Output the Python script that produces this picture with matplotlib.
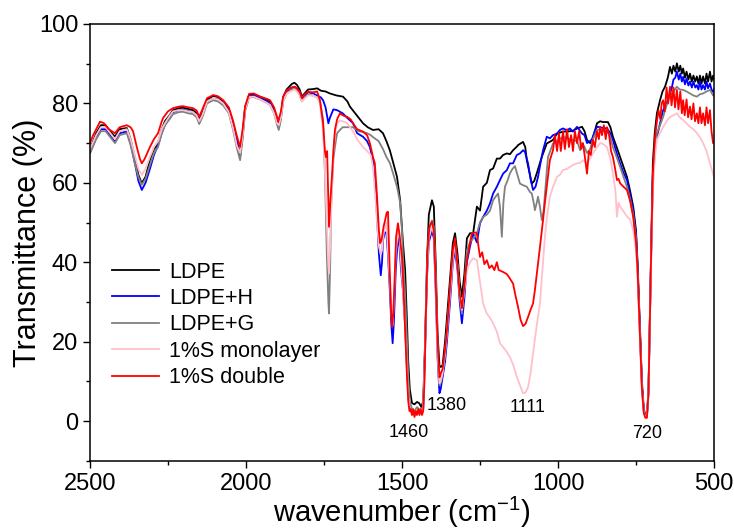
import matplotlib
matplotlib.use("Agg")
import matplotlib.pyplot as plt
from matplotlib.ticker import MultipleLocator

plt.rcParams['font.family'] = ['Liberation Sans', 'DejaVu Sans']
plt.rcParams['mathtext.fontset'] = 'custom'
plt.rcParams['mathtext.rm'] = 'Liberation Sans'
plt.rcParams['mathtext.it'] = 'Liberation Sans'

# ---------------- data (wavenumber cm-1, transmittance %) ----------------
ldpe_wn = [2500, 2480, 2465, 2450, 2435, 2420, 2405, 2382, 2370, 2355, 2345, 2334, 2322, 2308, 2295,
           2282, 2270, 2260, 2245, 2234, 2215, 2202, 2185, 2170, 2158, 2150, 2140, 2125, 2105, 2090,
           2073, 2055, 2042, 2030, 2019, 2010, 2003, 1990, 1975, 1955, 1935, 1923, 1910, 1900, 1895,
           1888, 1881, 1870, 1853, 1845, 1837, 1828, 1821, 1812, 1801, 1785, 1772, 1760, 1745, 1731,
           1710, 1689, 1675, 1667, 1650, 1640, 1625, 1610, 1593, 1575, 1561, 1550, 1539, 1528, 1516,
           1506, 1497, 1490, 1484, 1480, 1475, 1468, 1460, 1452, 1445, 1438, 1432, 1426, 1420, 1414,
           1404, 1398, 1392, 1386, 1380, 1376, 1370, 1362, 1356, 1346, 1337, 1330, 1322, 1315, 1308,
           1300, 1292, 1282, 1272, 1260, 1250, 1240, 1228, 1218, 1208, 1196, 1186, 1176, 1164, 1154,
           1144, 1132, 1128, 1112, 1105, 1100, 1090, 1084, 1076, 1068, 1058, 1052, 1036, 1016, 1003,
           984, 971, 952, 939, 923, 915, 907, 897, 891, 882, 875, 865, 856, 840, 832,
           824, 812, 801, 790, 779, 769, 759, 750, 745, 738, 731, 725, 720, 715, 710,
           706, 701, 696, 690, 683, 673, 665, 657, 648, 641, 635, 630, 624, 619, 613,
           608, 603, 599, 593, 588, 582, 577, 571, 566, 560, 555, 550, 545, 540, 535,
           529, 524, 519, 513, 508, 503, 500]
ldpe_t = [68.5, 72.5, 74.5, 74.5, 73.0, 71.6, 73.5, 73.8, 71.0, 66.0, 62.0, 59.9, 61.5, 65.7, 68.5,
          70.0, 73.5, 75.5, 77.0, 78.3, 78.8, 78.9, 78.6, 78.3, 77.5, 76.0, 77.5, 81.0, 81.9, 81.6,
          80.5, 78.5, 75.0, 71.0, 67.0, 73.0, 79.0, 82.2, 82.3, 81.7, 81.0, 80.5, 78.5, 76.0, 74.5,
          77.0, 81.5, 83.5, 84.9, 85.2, 84.7, 83.5, 81.7, 82.5, 83.5, 83.6, 83.8, 83.2, 83.0, 82.5,
          82.0, 81.7, 80.5, 79.2, 77.5, 76.5, 75.0, 74.0, 73.3, 73.5, 72.5, 70.5, 68.2, 65.0, 61.5,
          55.6, 45.0, 38.0, 25.0, 15.0, 8.0, 4.5, 4.2, 4.8, 4.5, 3.5, 5.0, 20.0, 40.0, 52.0,
          55.6, 54.0, 40.0, 22.0, 14.0, 13.6, 14.0, 20.0, 26.0, 36.0, 44.8, 47.3, 42.0, 35.0, 31.3,
          37.0, 46.0, 47.3, 47.3, 54.0, 53.0, 59.0, 60.0, 63.2, 63.6, 66.1, 66.1, 67.0, 67.4, 67.2,
          68.2, 69.1, 69.5, 70.3, 69.0, 65.7, 62.0, 59.8, 60.5, 62.4, 65.0, 66.5, 69.9, 70.8, 72.4,
          72.9, 72.9, 73.1, 73.7, 74.1, 73.0, 70.8, 70.0, 70.5, 73.0, 75.0, 75.5, 75.3, 75.3, 74.0,
          71.6, 69.0, 66.5, 64.0, 61.5, 58.0, 54.0, 48.0, 40.0, 25.0, 10.0, 3.0, 1.5, 1.5, 8.0,
          25.0, 45.0, 65.0, 72.5, 77.5, 80.8, 83.0, 84.2, 86.5, 89.2, 87.5, 89.5, 88.0, 90.1, 88.0,
          89.5, 87.5, 88.8, 86.5, 88.0, 86.0, 87.5, 85.5, 87.0, 85.5, 86.8, 85.0, 87.0, 85.0, 86.8,
          85.0, 87.5, 85.5, 88.0, 85.5, 87.0, 86.0]

ldpeh_wn = [2500, 2480, 2465, 2450, 2435, 2420, 2405, 2382, 2370, 2355, 2345, 2334, 2322, 2308, 2295,
            2282, 2270, 2260, 2245, 2234, 2215, 2202, 2185, 2170, 2158, 2150, 2140, 2125, 2105, 2090,
            2073, 2055, 2042, 2030, 2019, 2010, 2003, 1990, 1975, 1955, 1935, 1923, 1910, 1900, 1895,
            1888, 1881, 1870, 1853, 1845, 1837, 1828, 1821, 1812, 1801, 1785, 1772, 1760, 1753, 1745,
            1736, 1731, 1720, 1708, 1690, 1676, 1657, 1644, 1625, 1612, 1603, 1593, 1585, 1580, 1574,
            1568, 1564, 1561, 1555, 1550, 1545, 1539, 1534, 1530, 1526, 1520, 1513, 1508, 1503, 1497,
            1490, 1485, 1480, 1475, 1468, 1460, 1452, 1445, 1438, 1432, 1426, 1420, 1414, 1404, 1398,
            1392, 1386, 1380, 1376, 1370, 1362, 1356, 1346, 1337, 1330, 1322, 1315, 1308, 1300, 1292,
            1282, 1272, 1260, 1250, 1240, 1228, 1218, 1208, 1196, 1186, 1176, 1164, 1154, 1144, 1132,
            1122, 1112, 1106, 1096, 1088, 1080, 1072, 1064, 1056, 1048, 1036, 1026, 1016, 1003, 994,
            984, 971, 962, 952, 939, 923, 915, 907, 897, 891, 882, 875, 865, 856, 843,
            832, 824, 812, 801, 790, 779, 769, 759, 750, 745, 738, 731, 725, 720, 715,
            710, 706, 701, 696, 690, 683, 673, 663, 652, 641, 635, 630, 624, 619, 613,
            608, 603, 599, 593, 588, 582, 577, 571, 566, 560, 555, 550, 545, 540, 535,
            529, 524, 519, 513, 508, 503, 500]
ldpeh_t = [67.5, 71.5, 73.5, 73.5, 72.0, 70.3, 72.5, 72.9, 70.0, 64.5, 60.5, 58.2, 60.0, 63.5, 67.0,
           69.5, 72.5, 74.5, 76.5, 77.8, 78.3, 78.4, 78.1, 77.8, 77.0, 75.5, 77.0, 80.5, 81.2, 81.0,
           80.0, 78.0, 74.5, 70.5, 66.5, 72.5, 78.5, 81.8, 81.9, 81.3, 80.6, 80.0, 78.0, 75.5, 74.0,
           76.5, 81.0, 83.0, 84.0, 84.2, 83.8, 82.8, 81.3, 82.0, 82.8, 82.5, 82.0, 81.5, 80.8, 79.0,
           75.0, 76.4, 78.5, 78.3, 77.5, 76.4, 75.0, 72.5, 71.6, 70.5, 69.0, 65.7, 58.0, 51.4, 42.0,
           36.7, 40.0, 45.5, 47.5, 47.5, 42.0, 32.9, 24.0, 19.6, 25.0, 38.0, 46.4, 44.0, 38.0, 32.9,
           24.0, 15.0, 7.0, 3.0, 2.0, 1.5, 2.5, 2.0, 2.5, 3.0, 18.0, 36.0, 45.0, 48.0, 46.0,
           33.0, 16.0, 7.0, 8.0, 11.0, 15.0, 20.0, 30.0, 40.0, 43.0, 38.0, 30.0, 24.6, 31.0, 40.0,
           44.0, 47.3, 45.0, 49.8, 51.4, 53.0, 54.8, 57.3, 59.0, 60.7, 62.3, 63.2, 64.9, 64.9, 67.0,
           67.4, 68.2, 67.8, 64.9, 61.0, 58.2, 59.0, 61.5, 65.0, 68.2, 71.6, 71.2, 72.0, 72.4, 73.3,
           73.7, 73.2, 73.7, 72.9, 74.1, 72.4, 72.0, 70.0, 70.5, 71.0, 73.0, 74.1, 74.0, 73.8, 73.7,
           72.5, 70.8, 67.5, 64.9, 62.5, 60.7, 57.0, 53.2, 47.0, 39.0, 24.0, 9.0, 2.5, 1.2, 1.2,
           7.0, 24.0, 44.0, 62.0, 68.0, 71.6, 75.0, 78.3, 80.0, 82.5, 84.0, 86.0, 86.5, 88.0, 86.0,
           87.5, 85.5, 86.7, 84.8, 86.3, 84.5, 85.5, 84.0, 85.5, 84.0, 84.6, 83.5, 85.5, 83.5, 84.6,
           83.5, 85.5, 83.8, 85.0, 83.5, 82.9, 83.5]

ldpeg_wn = [2500, 2480, 2465, 2450, 2435, 2420, 2405, 2382, 2370, 2355, 2345, 2334, 2322, 2308, 2295,
            2282, 2270, 2260, 2245, 2234, 2215, 2202, 2185, 2170, 2158, 2150, 2140, 2125, 2105, 2090,
            2073, 2055, 2042, 2030, 2019, 2010, 2003, 1990, 1975, 1955, 1935, 1923, 1910, 1900, 1895,
            1888, 1881, 1870, 1853, 1845, 1837, 1828, 1821, 1812, 1801, 1785, 1772, 1763, 1753, 1747,
            1741, 1736, 1734, 1730, 1727, 1720, 1715, 1708, 1699, 1690, 1676, 1657, 1640, 1625, 1612,
            1600, 1593, 1575, 1561, 1550, 1539, 1529, 1516, 1506, 1500, 1497, 1490, 1484, 1480, 1475,
            1468, 1460, 1452, 1445, 1438, 1432, 1426, 1420, 1414, 1404, 1398, 1392, 1386, 1380, 1376,
            1370, 1362, 1356, 1346, 1337, 1330, 1322, 1315, 1308, 1300, 1292, 1282, 1272, 1260, 1250,
            1240, 1228, 1218, 1208, 1200, 1192, 1186, 1180, 1175, 1170, 1162, 1154, 1146, 1138, 1130,
            1122, 1112, 1100, 1090, 1084, 1078, 1074, 1068, 1064, 1058, 1052, 1046, 1042, 1036, 1032,
            1016, 1003, 984, 971, 952, 939, 929, 923, 915, 907, 897, 888, 875, 865, 856,
            843, 832, 824, 812, 801, 790, 779, 769, 759, 750, 745, 738, 731, 725, 720,
            715, 710, 706, 701, 696, 690, 683, 673, 663, 652, 641, 630, 619, 610, 599,
            588, 577, 566, 555, 545, 535, 524, 513, 503, 500]
ldpeg_t = [67.5, 71.0, 73.0, 73.0, 71.5, 70.0, 72.0, 72.5, 69.5, 64.5, 61.5, 59.5, 61.0, 64.5, 67.5,
           69.0, 72.5, 74.5, 76.0, 77.3, 77.8, 77.9, 77.5, 77.3, 76.5, 74.8, 76.5, 80.0, 80.8, 80.5,
           79.5, 77.5, 73.5, 69.0, 65.7, 71.5, 78.0, 81.5, 81.6, 81.0, 80.2, 79.6, 77.5, 74.5, 73.3,
           76.0, 80.5, 82.5, 83.5, 83.8, 83.3, 82.2, 80.5, 81.5, 82.2, 82.0, 81.5, 80.5, 76.0, 62.3,
           42.2, 30.0, 27.1, 40.0, 54.0, 66.0, 69.0, 72.5, 73.3, 74.0, 74.0, 74.0, 73.0, 72.8, 72.5,
           72.0, 71.5, 70.5, 68.5, 66.5, 65.0, 62.5, 59.0, 55.0, 48.0, 41.3, 32.0, 20.0, 11.0, 5.0,
           3.0, 2.5, 3.5, 3.0, 2.5, 4.0, 19.0, 38.0, 48.0, 50.5, 49.0, 37.0, 18.0, 9.0, 9.5,
           12.0, 17.0, 23.0, 33.0, 42.0, 45.0, 39.0, 31.0, 27.0, 34.0, 43.0, 45.0, 46.0, 47.3, 50.0,
           51.4, 52.0, 53.0, 55.6, 56.5, 57.3, 54.0, 46.4, 55.0, 59.0, 60.5, 62.4, 63.5, 64.2, 62.0,
           59.8, 59.4, 59.0, 57.7, 57.3, 55.0, 53.1, 55.0, 56.5, 54.0, 50.6, 53.0, 57.0, 63.0, 66.5,
           69.9, 70.5, 71.6, 71.2, 70.8, 70.5, 68.2, 70.0, 69.0, 67.5, 68.5, 71.0, 73.3, 73.5, 73.3,
           73.0, 71.5, 69.0, 66.5, 64.0, 61.5, 59.0, 56.0, 52.0, 46.0, 38.0, 23.0, 8.5, 2.5, 1.2,
           1.2, 7.0, 24.0, 43.0, 60.0, 67.0, 72.5, 74.5, 76.6, 79.5, 82.0, 83.0, 84.2, 83.5, 83.4,
           83.0, 82.5, 82.0, 81.7, 82.3, 82.5, 83.0, 83.4, 82.0, 82.5]

mono_wn = [2500, 2480, 2465, 2450, 2435, 2420, 2405, 2382, 2370, 2355, 2345, 2334, 2322, 2308, 2295,
           2282, 2270, 2260, 2245, 2234, 2215, 2202, 2185, 2170, 2158, 2150, 2140, 2125, 2105, 2090,
           2073, 2055, 2042, 2030, 2019, 2010, 2003, 1990, 1975, 1955, 1935, 1923, 1910, 1900, 1895,
           1888, 1881, 1870, 1853, 1845, 1837, 1828, 1821, 1812, 1801, 1785, 1772, 1763, 1753, 1747,
           1741, 1736, 1734, 1730, 1725, 1720, 1715, 1708, 1699, 1690, 1676, 1657, 1644, 1625, 1612,
           1600, 1593, 1585, 1580, 1574, 1568, 1564, 1561, 1555, 1550, 1545, 1539, 1534, 1530, 1526,
           1520, 1513, 1508, 1503, 1497, 1490, 1485, 1480, 1475, 1468, 1460, 1452, 1445, 1438, 1432,
           1426, 1420, 1414, 1404, 1398, 1392, 1386, 1380, 1376, 1370, 1362, 1356, 1346, 1337, 1330,
           1322, 1315, 1308, 1300, 1292, 1282, 1272, 1260, 1250, 1240, 1228, 1218, 1208, 1196, 1186,
           1175, 1165, 1154, 1143, 1132, 1122, 1112, 1104, 1096, 1088, 1080, 1070, 1058, 1050, 1042,
           1036, 1026, 1016, 1003, 994, 984, 971, 962, 952, 939, 929, 920, 907, 897, 888,
           875, 865, 856, 843, 832, 824, 816, 811, 806, 801, 790, 779, 769, 759, 750,
           745, 738, 731, 725, 720, 715, 710, 706, 701, 696, 690, 683, 673, 663, 652,
           641, 630, 619, 610, 599, 588, 577, 566, 555, 545, 535, 524, 513, 503, 500]
mono_t = [68.5, 72.0, 74.0, 74.0, 72.5, 71.0, 73.0, 73.5, 71.0, 66.5, 63.5, 62.0, 63.5, 66.5, 69.0,
          70.5, 73.5, 75.0, 76.8, 78.0, 78.3, 78.3, 78.0, 77.8, 77.0, 75.5, 77.0, 80.5, 81.2, 81.0,
          80.0, 77.8, 74.0, 69.5, 67.5, 72.5, 78.5, 81.6, 81.7, 81.0, 80.2, 79.6, 77.5, 75.0, 74.5,
          76.5, 80.5, 82.5, 83.2, 83.5, 83.0, 82.0, 80.5, 81.2, 82.0, 82.0, 81.5, 80.0, 73.0, 63.0,
          50.0, 39.0, 37.2, 45.0, 58.0, 68.0, 72.0, 75.0, 75.7, 75.5, 75.0, 73.0, 71.0, 69.0, 68.0,
          67.0, 64.0, 56.0, 50.0, 44.0, 42.0, 43.0, 46.0, 49.0, 50.0, 43.0, 35.0, 27.0, 24.0, 30.0,
          42.0, 48.0, 46.0, 40.0, 33.0, 23.0, 14.0, 6.0, 3.0, 2.0, 1.5, 2.5, 2.0, 2.5, 3.0,
          18.0, 37.0, 46.0, 49.0, 47.0, 34.0, 17.0, 9.5, 10.0, 12.0, 17.0, 22.0, 32.0, 41.0, 44.5,
          39.0, 32.0, 28.0, 33.0, 38.0, 40.0, 41.0, 40.5, 35.0, 29.6, 27.0, 26.0, 24.6, 22.5, 19.6,
          18.5, 17.5, 16.1, 14.0, 11.1, 9.0, 7.0, 7.2, 8.5, 12.0, 17.0, 23.0, 29.6, 38.0, 46.4,
          51.0, 56.5, 59.0, 61.5, 62.0, 63.2, 63.5, 64.0, 64.5, 64.9, 65.0, 65.7, 65.0, 66.2, 67.4,
          69.0, 70.0, 69.8, 69.0, 66.0, 62.3, 58.0, 51.4, 55.0, 54.0, 52.8, 51.5, 50.8, 48.0, 43.0,
          36.0, 22.0, 8.0, 2.0, 1.0, 1.0, 7.0, 23.0, 42.0, 58.0, 66.0, 70.8, 72.5, 74.1, 75.5,
          76.6, 77.0, 77.5, 76.5, 75.8, 75.0, 74.1, 73.5, 72.5, 71.5, 70.0, 68.0, 64.9, 62.3, 61.5]

double_wn = [2500, 2490, 2480, 2468, 2455, 2440, 2420, 2405, 2382, 2370, 2362, 2350, 2340, 2334, 2325,
             2308, 2295, 2282, 2270, 2266, 2250, 2234, 2215, 2202, 2185, 2170, 2158, 2150, 2140, 2125,
             2105, 2090, 2073, 2055, 2042, 2030, 2019, 2010, 2003, 1990, 1975, 1955, 1935, 1923, 1910,
             1900, 1897, 1888, 1881, 1870, 1853, 1845, 1837, 1828, 1821, 1812, 1801, 1785, 1772, 1763,
             1753, 1747, 1744, 1740, 1736, 1734, 1730, 1724, 1720, 1715, 1708, 1699, 1690, 1676, 1665,
             1657, 1644, 1625, 1612, 1603, 1593, 1587, 1580, 1574, 1570, 1566, 1564, 1559, 1554, 1549,
             1545, 1542, 1539, 1535, 1532, 1528, 1524, 1519, 1513, 1508, 1500, 1495, 1490, 1485, 1480,
             1476, 1472, 1468, 1464, 1460, 1456, 1452, 1448, 1444, 1440, 1436, 1432, 1428, 1424, 1418,
             1412, 1404, 1398, 1392, 1386, 1380, 1376, 1370, 1362, 1356, 1346, 1337, 1330, 1322, 1315,
             1308, 1300, 1292, 1282, 1276, 1265, 1260, 1255, 1250, 1243, 1236, 1228, 1220, 1212, 1204,
             1196, 1190, 1186, 1175, 1164, 1155, 1144, 1136, 1128, 1120, 1112, 1104, 1096, 1088, 1080,
             1074, 1068, 1058, 1048, 1042, 1036, 1026, 1016, 1010, 1003, 997, 991, 984, 978, 971,
             965, 958, 952, 946, 939, 932, 926, 920, 913, 907, 901, 895, 888, 882, 875,
             869, 865, 859, 853, 847, 843, 836, 830, 824, 818, 811, 806, 801, 790, 779,
             769, 759, 750, 745, 738, 731, 725, 720, 715, 710, 706, 701, 696, 690, 683,
             678, 672, 668, 663, 658, 652, 647, 641, 636, 630, 625, 619, 614, 608, 603,
             599, 594, 588, 583, 577, 572, 566, 561, 555, 550, 545, 540, 535, 529, 524,
             519, 513, 508, 503, 500]
double_t = [70.0, 72.0, 73.5, 75.4, 75.0, 73.5, 72.5, 74.0, 74.5, 74.0, 73.0, 69.0, 66.0, 64.9, 66.0,
            69.0, 71.0, 72.5, 75.5, 76.3, 78.0, 78.8, 79.2, 79.3, 79.0, 78.8, 78.2, 76.6, 78.5, 81.3,
            82.1, 81.8, 80.8, 79.0, 75.8, 72.0, 69.0, 74.0, 79.2, 82.4, 82.5, 81.7, 81.2, 80.8, 79.0,
            76.5, 75.4, 78.0, 81.7, 83.3, 84.0, 84.2, 83.8, 83.0, 81.3, 82.3, 82.9, 82.8, 83.0, 80.8,
            75.0, 68.0, 66.5, 68.0, 55.0, 48.9, 55.0, 62.3, 68.0, 73.3, 76.0, 77.5, 77.0, 76.6, 76.0,
            75.0, 73.5, 72.9, 72.0, 70.0, 66.5, 64.9, 56.5, 48.0, 44.8, 45.5, 46.3, 49.0, 50.6, 52.5,
            52.7, 45.0, 37.2, 28.0, 23.7, 27.0, 35.0, 46.4, 49.8, 47.0, 41.3, 33.0, 22.9, 13.0, 5.0,
            2.5, 3.0, 1.5, 3.0, 1.0, 2.5, 1.5, 3.0, 1.5, 3.0, 1.5, 2.5, 10.0, 25.0, 43.0,
            49.0, 50.2, 48.0, 35.0, 20.0, 11.0, 12.0, 13.0, 18.0, 22.8, 33.8, 43.0, 46.0, 39.0, 32.0,
            28.4, 34.0, 40.5, 45.0, 47.3, 47.5, 47.3, 44.0, 41.3, 42.5, 39.5, 40.5, 38.5, 39.2, 38.0,
            40.0, 38.0, 37.9, 37.5, 37.0, 36.0, 34.6, 31.5, 28.7, 25.5, 23.9, 24.5, 26.2, 28.0, 29.6,
            33.0, 37.0, 43.7, 50.6, 55.0, 59.0, 65.7, 68.2, 72.0, 68.0, 72.5, 68.0, 73.0, 68.5, 73.5,
            69.0, 72.0, 68.0, 73.0, 70.0, 73.0, 68.5, 70.0, 66.0, 62.3, 68.0, 67.0, 70.8, 69.0, 73.0,
            71.0, 74.1, 72.0, 74.5, 71.0, 74.0, 72.0, 68.0, 66.5, 64.0, 60.7, 61.0, 59.9, 59.0, 58.2,
            55.5, 51.4, 45.0, 38.0, 23.0, 8.0, 2.0, 0.8, 0.8, 7.0, 24.0, 44.0, 62.0, 70.8, 75.5,
            78.3, 76.0, 80.0, 80.8, 78.0, 84.0, 80.0, 84.2, 79.5, 84.0, 79.0, 83.4, 78.5, 83.0, 77.5,
            80.8, 77.0, 81.0, 76.5, 79.2, 76.0, 80.0, 75.5, 77.5, 75.0, 79.0, 75.0, 77.5, 74.5, 79.0,
            75.0, 78.3, 73.0, 70.0, 70.0]

series_labels = ['LDPE', 'LDPE+H', 'LDPE+G', '1%S monolayer', '1%S double']
series_colors = ['#000000', '#0000ff', '#808080', '#ffc0cb', '#ff0000']

peak_labels = ['1460', '1380', '1111', '720']
peak_pos_wn = [1478, 1356, 1099, 715]
peak_pos_t = [-2.9, 3.9, 3.4, -3.1]

x_ticks = [2500, 2000, 1500, 1000, 500]
y_ticks = [0, 20, 40, 60, 80, 100]

# ---------------- figure ----------------
fig = plt.figure(figsize=(7.34, 5.32), dpi=100)
ax = fig.add_axes([90 / 734, 1 - 460.7 / 532, 624 / 734, 436.7 / 532])

all_wn = [ldpe_wn, ldpeh_wn, ldpeg_wn, mono_wn, double_wn]
all_t = [ldpe_t, ldpeh_t, ldpeg_t, mono_t, double_t]
for wn, t, lab, col in zip(all_wn, all_t, series_labels, series_colors):
    ax.plot(wn, t, color=col, lw=1.3, label=lab)

for lab, xw, yt in zip(peak_labels, peak_pos_wn, peak_pos_t):
    ax.text(xw, yt, lab, ha='center', va='center', fontsize=13)

ax.set_xlim(2500, 500)
ax.set_ylim(-10, 100)
ax.set_xticks(x_ticks)
ax.set_yticks(y_ticks)
ax.xaxis.set_minor_locator(MultipleLocator(250))
ax.yaxis.set_minor_locator(MultipleLocator(10))
ax.tick_params(which='major', direction='out', length=5, width=1.0, labelsize=17,
               top=False, right=False)
ax.tick_params(which='minor', direction='out', length=3, width=1.0, top=False, right=False)
for sp in ax.spines.values():
    sp.set_linewidth(1.1)

ax.set_xlabel('wavenumber (cm$^{-1}$)', fontsize=21, labelpad=0)
ax.set_ylabel('Transmittance (%)', fontsize=22, labelpad=-3)

leg = ax.legend(loc='center left', bbox_to_anchor=(0.035, 0.311), frameon=False,
                fontsize=15.5, handlelength=2.2, handletextpad=0.45, labelspacing=0.25,
                borderpad=0, borderaxespad=0)

fig.savefig('out.png', dpi=100, facecolor='white')
